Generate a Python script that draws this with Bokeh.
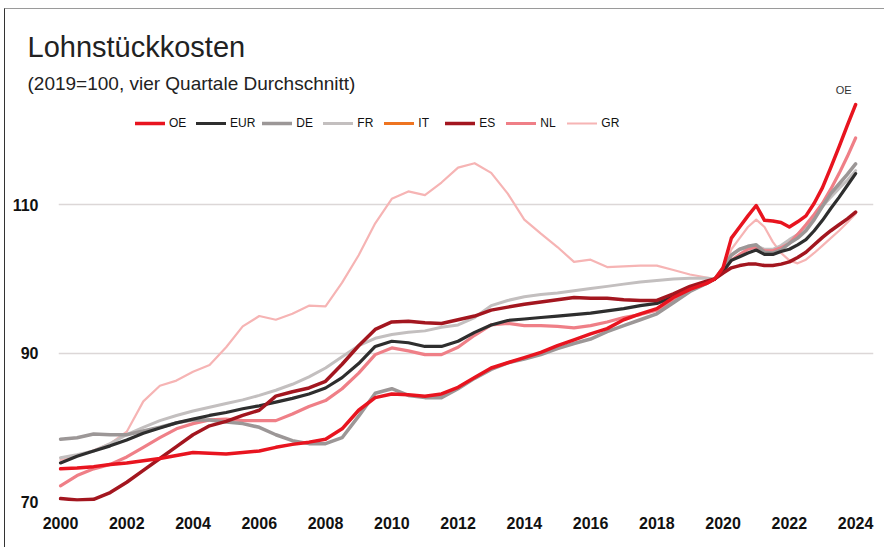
from bokeh.plotting import figure
from bokeh.models import FixedTicker, Label, Legend, LegendItem, Range1d, Title
from bokeh.embed import file_html
from bokeh.resources import INLINE

years = [2000.0, 2000.5, 2001.0, 2001.5, 2002.0, 2002.5, 2003.0, 2003.5, 2004.0, 2004.5,
         2005.0, 2005.5, 2006.0, 2006.5, 2007.0, 2007.5, 2008.0, 2008.5, 2009.0, 2009.5,
         2010.0, 2010.5, 2011.0, 2011.5, 2012.0, 2012.5, 2013.0, 2013.5, 2014.0, 2014.5,
         2015.0, 2015.5, 2016.0, 2016.5, 2017.0, 2017.5, 2018.0, 2018.5, 2019.0, 2019.5,
         2019.75, 2020.0, 2020.25, 2020.5, 2020.75, 2021.0, 2021.25, 2021.5, 2021.75,
         2022.0, 2022.25, 2022.5, 2022.75, 2023.0, 2023.25, 2023.5, 2023.75, 2024.0]

oe = [74.4, 74.5, 74.7, 75.0, 75.2, 75.5, 75.8, 76.2, 76.6, 76.5,
      76.4, 76.6, 76.8, 77.3, 77.7, 78.0, 78.4, 79.8, 82.3, 84.0,
      84.5, 84.4, 84.2, 84.5, 85.4, 86.7, 88.0, 88.7, 89.4, 90.1,
      91.0, 91.8, 92.6, 93.3, 94.5, 95.3, 96.0, 97.5, 98.6, 99.4,
      100.0, 101.5, 105.5, 107.0, 108.5, 109.9, 107.9, 107.8, 107.6,
      107.0, 107.7, 108.5, 110.2, 112.3, 115.0, 117.8, 120.7, 123.5]

eur = [75.2, 76.1, 76.8, 77.5, 78.3, 79.2, 79.9, 80.6, 81.1, 81.6,
       82.0, 82.5, 82.9, 83.4, 83.9, 84.5, 85.3, 86.7, 88.6, 90.9,
       91.6, 91.4, 90.9, 90.9, 91.6, 92.8, 93.8, 94.4, 94.6, 94.8,
       95.0, 95.2, 95.4, 95.7, 96.0, 96.4, 96.7, 97.6, 98.7, 99.5,
       100.0, 101.0, 102.5, 103.0, 103.5, 103.9, 103.3, 103.3, 103.7,
       104.0, 104.6, 105.3, 106.5, 107.9, 109.5, 111.0, 112.6, 114.2]

de = [78.4, 78.6, 79.1, 79.0, 79.0, 79.5, 80.0, 80.6, 81.0, 81.0,
      80.7, 80.5, 80.0, 79.0, 78.2, 77.8, 77.8, 78.6, 81.5, 84.6,
      85.2, 84.3, 84.0, 84.0, 85.2, 86.6, 87.8, 88.7, 89.2, 89.8,
      90.6, 91.3, 91.9, 92.9, 93.7, 94.5, 95.3, 96.8, 98.3, 99.4,
      100.0, 101.5, 103.2, 104.0, 104.4, 104.6, 103.6, 103.5, 103.9,
      104.8, 105.5, 106.5, 108.0, 109.8, 111.5, 112.8, 114.1, 115.5]

fr = [75.9, 76.3, 76.8, 77.8, 79.0, 80.0, 80.9, 81.6, 82.2, 82.7,
      83.2, 83.7, 84.3, 85.0, 85.8, 86.8, 88.0, 89.5, 91.0, 92.0,
      92.5, 92.8, 93.0, 93.5, 93.8, 94.8, 96.4, 97.1, 97.6, 97.9,
      98.1, 98.4, 98.7, 99.0, 99.3, 99.6, 99.8, 100.0, 100.1, 100.1,
      100.0, 101.0, 103.3, 104.0, 104.2, 104.5, 104.0, 104.0, 104.5,
      105.3, 106.0, 107.0, 108.3, 109.8, 111.0, 112.2, 113.3, 114.6]

# IT appears in the legend only; no values are visible in the chart
it = [float("nan")]

es = [70.4, 70.2, 70.3, 71.2, 72.6, 74.2, 75.8, 77.4, 79.0, 80.2,
      80.8, 81.6, 82.3, 84.2, 84.8, 85.3, 86.2, 88.5, 91.0, 93.2,
      94.2, 94.3, 94.1, 94.0, 94.5, 95.0, 95.8, 96.2, 96.6, 96.9,
      97.2, 97.5, 97.4, 97.4, 97.2, 97.1, 97.1, 98.0, 99.0, 99.7,
      100.0, 100.8, 101.5, 101.8, 102.0, 102.0, 101.8, 101.8, 102.0,
      102.3, 102.9, 103.6, 104.6, 105.6, 106.5, 107.3, 108.1, 109.0]

nl = [72.1, 73.5, 74.4, 75.0, 76.0, 77.3, 78.6, 79.8, 80.5, 81.0,
      81.1, 80.9, 80.9, 80.9, 81.8, 82.8, 83.6, 85.2, 87.3, 89.8,
      90.7, 90.3, 89.8, 89.8, 90.8, 92.4, 93.8, 94.0, 93.7, 93.7,
      93.6, 93.4, 93.7, 94.2, 94.8, 95.2, 95.8, 97.0, 98.5, 99.4,
      100.0, 101.2, 102.5, 103.3, 104.0, 104.3, 103.8, 103.8, 104.2,
      104.8, 106.0, 107.3, 108.7, 110.2, 112.1, 114.2, 116.5, 119.0]

gr = [75.6, 76.2, 76.9, 77.8, 79.4, 83.5, 85.6, 86.3, 87.5, 88.4,
      90.8, 93.6, 95.0, 94.5, 95.3, 96.4, 96.3, 99.5, 103.2, 107.5,
      110.8, 111.8, 111.3, 113.0, 115.0, 115.6, 114.3, 111.5, 108.0, 106.1,
      104.3, 102.3, 102.6, 101.6, 101.7, 101.8, 101.8, 101.2, 100.6, 100.2,
      100.0, 101.2, 104.0, 105.5, 107.0, 108.0, 107.0, 105.0, 103.5,
      102.5, 102.1, 102.6, 103.5, 104.5, 105.5, 106.5, 107.6, 108.8]

x_ticks = [2000, 2002, 2004, 2006, 2008, 2010, 2012, 2014, 2016, 2018, 2020, 2022, 2024]
y_ticks = [70, 90, 110]

legend_names = ["OE", "EUR", "DE", "FR", "IT", "ES", "NL", "GR"]
colors = {"OE": "#e8141f", "EUR": "#2e2e2e", "DE": "#9c9797", "FR": "#c3bfbf",
          "IT": "#ee7420", "ES": "#a3161f", "NL": "#ef7f87", "GR": "#f6b4b4"}
widths = {"OE": 3.5, "EUR": 3.2, "DE": 3.5, "FR": 3.0, "IT": 3.2, "ES": 3.5, "NL": 3.2, "GR": 2.2}
data = {"OE": oe, "EUR": eur, "DE": de, "FR": fr, "IT": it, "ES": es, "NL": nl, "GR": gr}
draw_order = ["GR", "FR", "IT", "NL", "DE", "EUR", "ES", "OE"]

FONT = "Liberation Sans"

p = figure(width=880, height=539, output_backend="svg", toolbar_location=None,
           x_range=Range1d(1999.94, 2024.54), y_range=Range1d(70, 126.48),
           min_border_left=53, min_border_right=12, min_border_top=73, min_border_bottom=47)
p.styles = {"margin-left": "4px", "margin-top": "8px",
            "border-left": "1px solid #333333", "border-top": "1px solid #9a9a9a"}
p.background_fill_color = "white"
p.border_fill_color = "white"
p.outline_line_color = None

renderers = {}
for name in draw_order:
    ys = data[name]
    xs = years[:len(ys)]
    renderers[name] = p.line(xs, ys, line_color=colors[name], line_width=widths[name],
                             line_join="round", line_cap="round")

p.xgrid.grid_line_color = None
p.ygrid.grid_line_color = "#dcd7d7"
p.ygrid.grid_line_width = 1.5

for ax in (p.xaxis, p.yaxis):
    ax.axis_line_color = None
    ax.major_tick_line_color = None
    ax.minor_tick_line_color = None
    ax.major_label_text_font = FONT
    ax.major_label_text_font_style = "bold"
    ax.major_label_text_font_size = "16px"
    ax.major_label_text_color = "#111111"

p.xaxis.ticker = FixedTicker(ticks=x_ticks)
p.yaxis.ticker = FixedTicker(ticks=y_ticks)
p.xaxis.major_label_standoff = 9
p.yaxis.major_label_standoff = 14

legend = Legend(items=[LegendItem(label=n, renderers=[renderers[n]]) for n in legend_names],
                orientation="horizontal", location=(77, 371),
                label_text_font=FONT, label_text_font_size="12px", label_text_color="#111111",
                glyph_width=30, glyph_height=14, label_height=14, label_standoff=4,
                spacing=7, padding=0, margin=0,
                border_line_color=None, background_fill_alpha=0)
p.add_layout(legend)

p.add_layout(Title(text="(2019=100, vier Quartale Durchschnitt)", text_font=FONT,
                   text_font_size="19px", text_font_style="normal", text_color="#222222",
                   align="left", offset=-31, standoff=-22), "above")
p.add_layout(Title(text="Lohnstückkosten", text_font=FONT, text_font_size="29px",
                   text_font_style="normal", text_color="#222222",
                   align="left", offset=-31, standoff=38), "above")

p.add_layout(Label(x=years[len(oe) - 1], y=oe[-1], x_offset=-12, y_offset=9,
                   text="OE", text_font=FONT, text_font_size="11px", text_color="#333333",
                   text_align="center", text_baseline="bottom"))

open("out.html", "w").write(file_html(p, INLINE))
